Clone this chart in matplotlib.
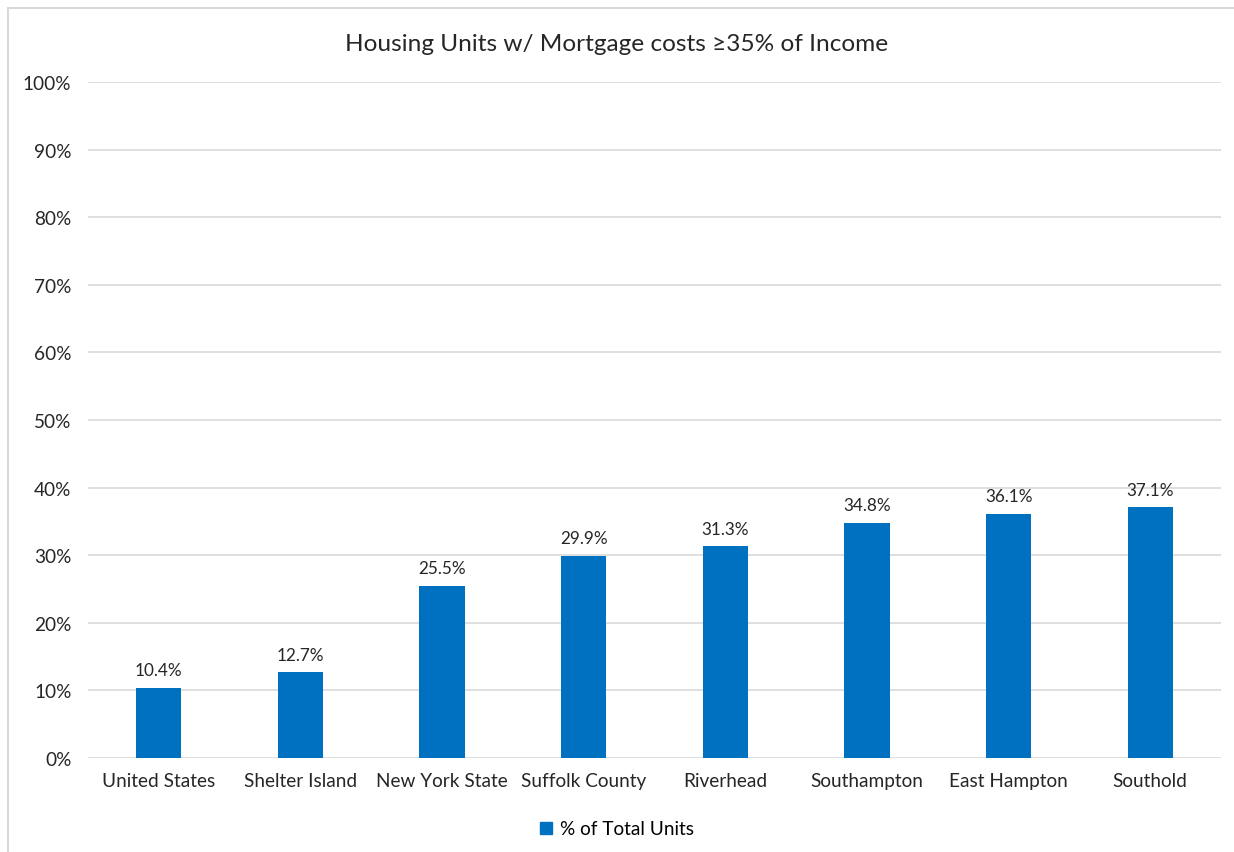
import matplotlib.pyplot as plt
import matplotlib.patches as mpatches
from matplotlib.ticker import PercentFormatter

plt.rcParams['font.family'] = ['Lato', 'DejaVu Sans']

categories = ["United States", "Shelter Island", "New York State", "Suffolk County",
              "Riverhead", "Southampton", "East Hampton", "Southold"]
values = [10.4, 12.7, 25.5, 29.9, 31.3, 34.8, 36.1, 37.1]
title = "Housing Units w/ Mortgage costs \u226535% of Income"
series_name = "% of Total Units"

bar_color = '#0070C0'
grid_color = '#D9D9D9'

fig = plt.figure(figsize=(12.34, 8.53), dpi=100)
ax = fig.add_axes([0.0713, 0.1102, 0.9182, 0.7925])

x = range(len(categories))
ax.bar(x, values, width=0.32, color=bar_color, zorder=3, label=series_name)

for xi, v in zip(x, values):
    ax.text(xi, v + 1.4, f"{v:.1f}%", ha='center', va='bottom', fontsize=12.3, color='#262626')

ax.set_xlim(-0.5, len(categories) - 0.5)
ax.set_ylim(0, 100)
ax.set_yticks(range(0, 101, 10))
ax.yaxis.set_major_formatter(PercentFormatter(decimals=0))
ax.set_xticks(list(x))
ax.set_xticklabels(categories)
ax.tick_params(axis='both', length=0, labelsize=13.7, colors='#262626')
ax.tick_params(axis='y', pad=12)
ax.tick_params(axis='x', pad=10)
ax.grid(axis='y', color=grid_color, linewidth=1.2, zorder=0)
for s in ax.spines.values():
    s.set_visible(False)

fig.text(0.5, 0.948, title, ha='center', va='center', fontsize=17.6, color='#262626')

handle = mpatches.Patch(color=bar_color, label=series_name)
fig.legend(handles=[handle], loc='center', bbox_to_anchor=(0.5, 0.027), frameon=False,
           fontsize=13.7, handlelength=0.6, handleheight=0.6, handletextpad=0.4)

# outer chart frame
fig.add_artist(mpatches.Rectangle((8 / 1234, -0.01), 1.1, 1 - 9 / 853 + 0.01,
                                  transform=fig.transFigure, fill=False,
                                  edgecolor=grid_color, linewidth=1.5))

fig.savefig('out.png', dpi=100)
